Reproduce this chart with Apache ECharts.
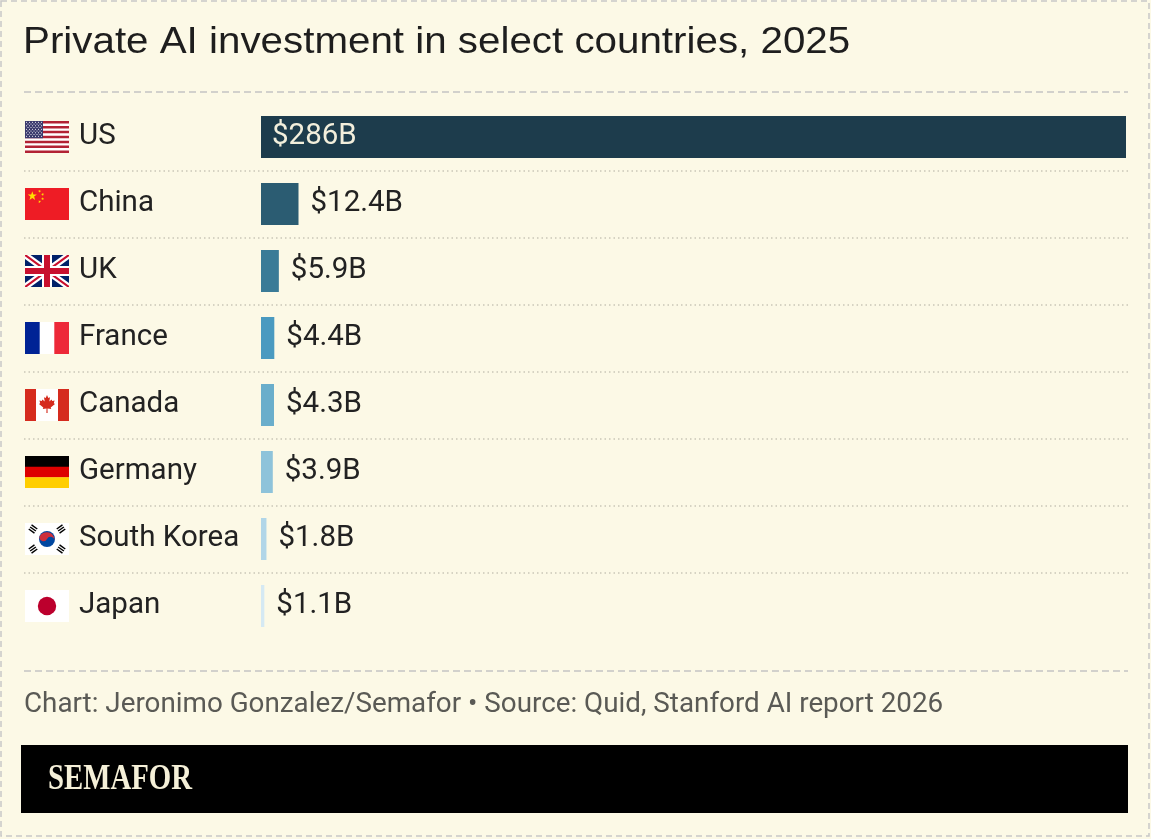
<!DOCTYPE html>
<html>
<head>
<meta charset="utf-8">
<script src="https://cdn.jsdelivr.net/npm/echarts@6/dist/echarts.min.js"></script>
<style>
  html, body { margin: 0; padding: 0; background: #fcf9e6; }
  #chart { width: 1151px; height: 839px; }
</style>
</head>
<body>
<div id="chart"></div>
<script>
/* Private AI investment chart */

var countries = ["US", "China", "UK", "France", "Canada", "Germany", "South Korea", "Japan"];
var investment = [286, 12.4, 5.9, 4.4, 4.3, 3.9, 1.8, 1.1];
var valueLabels = ["$286B", "$12.4B", "$5.9B", "$4.4B", "$4.3B", "$3.9B", "$1.8B", "$1.1B"];
var barColors = ["#1d3c4c", "#2b5c72", "#3a7b97", "#4a9ac0", "#6aaecb", "#8ec3da", "#b1d6e8", "#d5e9f3"];
var flagKeys = ["us", "cn", "uk", "fr", "ca", "de", "kr", "jp"];

function starPoints(cx, cy, r, rot) {
	var pts = [];
	for (var i = 0; i < 10; i++) {
		var rad = (i % 2 == 0) ? r : r * 0.4;
		var a = -Math.PI / 2 + i * Math.PI / 5 + (rot || 0);
		pts.push((cx + rad * Math.cos(a)).toFixed(2) + "," + (cy + rad * Math.sin(a)).toFixed(2));
	}
	return pts.join(" ");
}

function svgFlag(body) {
	var s = "<svg xmlns='http://www.w3.org/2000/svg' width='44' height='32' viewBox='0 0 44 32' preserveAspectRatio='none'>" + body + "</svg>";
	return "data:image/svg+xml;charset=utf-8," + encodeURIComponent(s);
}

var flags = {};

// US
(function () {
	var b = "<rect width='44' height='32' fill='#fff'/>";
	var h = 32 / 13;
	for (var i = 0; i < 13; i += 2) b += "<rect y='" + (i * h) + "' width='44' height='" + h + "' fill='#b22234'/>";
	b += "<rect width='18' height='" + (7 * h) + "' fill='#3c3b6e'/>";
	for (var r = 0; r < 9; r++) {
		for (var c = 0; c < 6; c++) {
			var x = 1.5 + c * 3 + (r % 2 ? 1.5 : 0);
			if (r % 2 && c == 5) continue;
			b += "<circle cx='" + x + "' cy='" + (1.2 + r * 1.75) + "' r='0.55' fill='#fff'/>";
		}
	}
	flags.us = svgFlag(b);
})();

flags.cn = svgFlag("<rect width='44' height='32' fill='#ee1c25'/>" +
	"<polygon points='" + starPoints(7.3, 8, 4.8) + "' fill='#ffde00'/>" +
	"<polygon points='" + starPoints(14.6, 3.2, 1.6, 0.4) + "' fill='#ffde00'/>" +
	"<polygon points='" + starPoints(17.6, 6.4, 1.6, 0.8) + "' fill='#ffde00'/>" +
	"<polygon points='" + starPoints(17.6, 10.8, 1.6, 0) + "' fill='#ffde00'/>" +
	"<polygon points='" + starPoints(14.6, 13.6, 1.6, 0.4) + "' fill='#ffde00'/>");

flags.uk = svgFlag("<rect width='44' height='32' fill='#012169'/>" +
	"<path d='M0,0 L44,32 M44,0 L0,32' stroke='#fff' stroke-width='6.5'/>" +
	"<path d='M0,0 L44,32 M44,0 L0,32' stroke='#c8102e' stroke-width='2.2'/>" +
	"<path d='M22,0 V32 M0,16 H44' stroke='#fff' stroke-width='10'/>" +
	"<path d='M22,0 V32 M0,16 H44' stroke='#c8102e' stroke-width='6'/>");

flags.fr = svgFlag("<rect width='44' height='32' fill='#fff'/>" +
	"<rect width='14.7' height='32' fill='#002395'/>" +
	"<rect x='29.3' width='14.7' height='32' fill='#ed2939'/>");

flags.ca = svgFlag("<rect width='44' height='32' fill='#fff'/>" +
	"<rect width='11' height='32' fill='#d52b1e'/>" +
	"<rect x='33' width='11' height='32' fill='#d52b1e'/>" +
	"<path d='M22,6 L23.3,9 L25,8.3 L24.3,12.5 L26.6,10.4 L27.2,12 L29.6,11.5 L28.8,14.2 L30,14.9 L25.7,18.4 L26.2,20 L22.5,19.4 L22.6,24 L21.4,24 L21.5,19.4 L17.8,20 L18.3,18.4 L14,14.9 L15.2,14.2 L14.4,11.5 L16.8,12 L17.4,10.4 L19.7,12.5 L19,8.3 L20.7,9 Z' fill='#d52b1e'/>");

flags.de = svgFlag("<rect width='44' height='11' fill='#000'/>" +
	"<rect y='10.7' width='44' height='10.7' fill='#dd0000'/>" +
	"<rect y='21.3' width='44' height='10.7' fill='#ffce00'/>");

(function () {
	var b = "<rect width='44' height='32' fill='#fff'/>";
	b += "<circle cx='22' cy='16' r='8' fill='#0047a0'/>";
	b += "<path d='M14.5,13.5 A8,8 0 0 1 29.5,18.5 A4,4 0 0 0 22,16 A4,4 0 0 1 14.5,13.5 Z' fill='#cd2e3a'/>";
	var tri = [[8, 6, 35], [36, 6, -35], [8, 26, -35], [36, 26, 35]];
	for (var i = 0; i < tri.length; i++) {
		var t = tri[i];
		b += "<g transform='translate(" + t[0] + "," + t[1] + ") rotate(" + t[2] + ")'>" +
			"<rect x='-3.5' y='-3.2' width='7' height='1.5' fill='#000'/>" +
			"<rect x='-3.5' y='-0.75' width='7' height='1.5' fill='#000'/>" +
			"<rect x='-3.5' y='1.7' width='7' height='1.5' fill='#000'/></g>";
	}
	flags.kr = svgFlag(b);
})();

flags.jp = svgFlag("<rect width='44' height='32' fill='#fff'/><circle cx='22' cy='16' r='9.2' fill='#bc002d'/>");

var rich = {
	name: { fontFamily: "Roboto", fontSize: 29.5, color: "#222", padding: [0, 0, 0, 10] }
};
for (var k = 0; k < flagKeys.length; k++) {
	rich[flagKeys[k]] = { width: 44, height: 32, backgroundColor: { image: flags[flagKeys[k]] } };
}

var barData = [];
for (var i = 0; i < investment.length; i++) {
	var item = {
		value: investment[i],
		itemStyle: { color: barColors[i] },
		label: { position: "right", distance: 12, color: "#222" }
	};
	if (i == 0) item.label = { position: "insideLeft", distance: 11, color: "#f3efdc" };
	barData.push(item);
}

var chart = echarts.init(document.getElementById("chart"));

// separators sit between rows: one axis point per gap, from row 1 to the last row
var option = {
	backgroundColor: "#fcf9e6",
	animation: false,
	grid: [
		{ left: 261, right: 25, top: 103.5, height: 536 },
		{ left: 24, right: 23, top: 170.5, height: 402 }
	],
	xAxis: [
		{ gridIndex: 0, type: "value", min: 0, max: 286, show: false },
		{ gridIndex: 1, type: "value", min: 0, max: 1, show: false }
	],
	yAxis: [
		{
			gridIndex: 0, type: "category", data: countries, inverse: true,
			axisLine: { show: false }, axisTick: { show: false }, splitLine: { show: false },
			axisLabel: {
				align: "left", margin: 236,
				formatter: function (v, idx) { return "{" + flagKeys[idx] + "|}{name|" + v + "}"; },
				rich: rich
			}
		},
		{
			gridIndex: 1, type: "category", data: countries.slice(1), inverse: true, boundaryGap: false,
			axisLine: { show: false }, axisTick: { show: false }, axisLabel: { show: false },
			splitLine: {
				show: true, interval: 0,
				lineStyle: { color: "#c9c6b8", width: 1.5, type: [1.5, 3] }
			}
		}
	],
	series: [{
		type: "bar",
		xAxisIndex: 0, yAxisIndex: 0,
		barWidth: 42,
		data: barData,
		label: {
			show: true,
			fontFamily: "Roboto", fontSize: 29.5,
			formatter: function (p) { return valueLabels[p.dataIndex]; }
		}
	}],
	graphic: [
		{ type: "rect", shape: { x: 1, y: 1, width: 1148, height: 835 }, style: { fill: null, stroke: "#c8c8c8", lineWidth: 1.5, lineDash: [6, 4] }, silent: true },
		{
			type: "text", x: 23, y: 43, scaleX: 1.09,
			style: { text: "Private AI investment in select countries, 2025", fontFamily: "Liberation Sans", fontSize: 37, fill: "#1e1e1e", verticalAlign: "middle" }
		},
		{ type: "line", shape: { x1: 24, y1: 92, x2: 1128, y2: 92 }, style: { stroke: "#c4c4c4", lineWidth: 1.5, lineDash: [7, 4] } },
		{ type: "line", shape: { x1: 24, y1: 671, x2: 1128, y2: 671 }, style: { stroke: "#c4c4c4", lineWidth: 1.5, lineDash: [7, 4] } },
		{
			type: "text", x: 24, y: 705,
			style: { text: "Chart: Jeronimo Gonzalez/Semafor \u2022 Source: Quid, Stanford AI report 2026", fontFamily: "Roboto", fontSize: 27.8, fill: "#5a5a55", verticalAlign: "middle" }
		},
		{ type: "rect", shape: { x: 21, y: 745, width: 1107, height: 68 }, style: { fill: "#000" } },
		{
			type: "text", x: 48, y: 780, scaleX: 0.8,
			style: { text: "SEMAFOR", fontFamily: "Liberation Serif", fontWeight: "bold", fontSize: 36, fill: "#f5f0d8", verticalAlign: "middle" }
		}
	]
};

chart.setOption(option);
</script>
</body>
</html>
